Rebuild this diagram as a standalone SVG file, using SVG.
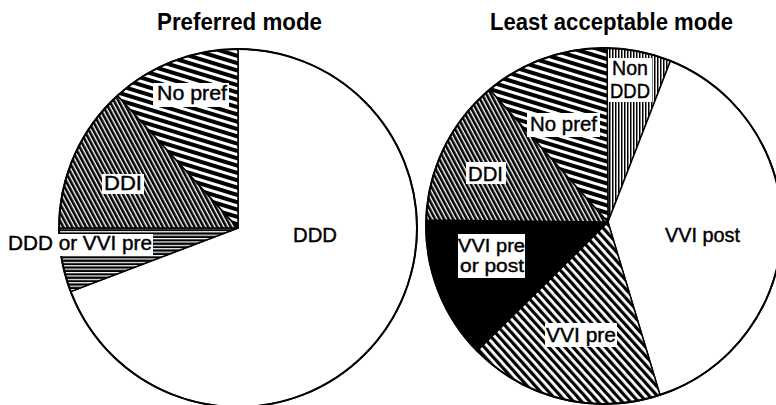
<svg xmlns="http://www.w3.org/2000/svg" width="776" height="405" viewBox="0 0 776 405">
  <style>
    .slice { stroke: #000; stroke-width: 1.5; stroke-linejoin: round; }
    .rim { fill: none; stroke: #000; stroke-width: 2; }
    .title { font-family: "Liberation Sans", Arial, sans-serif; font-weight: bold; font-size: 23px; fill: #000; text-anchor: middle; }
    .lbl { font-family: "Liberation Sans", Arial, sans-serif; font-size: 20px; fill: #000; stroke: #000; stroke-width: 0.4; }
    .lbl2 { font-size: 18px; }
    .box { fill: #fff; }
  </style>
  <defs>
    <!-- wide shallow stripes: "No pref" -->
    <pattern id="pWide" patternUnits="userSpaceOnUse" width="20" height="7" patternTransform="rotate(17)">
      <rect width="20" height="7" fill="#000"/>
      <rect y="0" width="20" height="3" fill="#fff"/>
    </pattern>
    <!-- dense steep diagonals: "DDI" -->
    <pattern id="pDense" patternUnits="userSpaceOnUse" width="20" height="4" patternTransform="rotate(62)">
      <rect width="20" height="4" fill="#000"/>
      <rect y="0" width="20" height="1.4" fill="#fff"/>
    </pattern>
    <!-- horizontal lines: "DDD or VVI pre" -->
    <pattern id="pHoriz" patternUnits="userSpaceOnUse" width="20" height="3.4">
      <rect width="20" height="3.4" fill="#000"/>
      <rect y="0" width="20" height="1.2" fill="#fff"/>
    </pattern>
    <!-- medium diagonals: "VVI pre" -->
    <pattern id="pDiag" patternUnits="userSpaceOnUse" width="20" height="6" patternTransform="rotate(48)">
      <rect width="20" height="6" fill="#000"/>
      <rect y="0" width="20" height="2.8" fill="#fff"/>
    </pattern>
    <!-- vertical lines: "Non DDD" -->
    <pattern id="pVert" patternUnits="userSpaceOnUse" width="3" height="20">
      <rect width="3" height="20" fill="#fff"/>
      <rect x="0" width="1.5" height="20" fill="#000"/>
    </pattern>
  </defs>

  <!-- Left chart: preferred mode -->
  <g id="preferred-chart">
    <text class="title" x="239.5" y="30" textLength="165" lengthAdjust="spacingAndGlyphs">Preferred mode</text>
    <g id="pref-ddd">
      <path class="slice" fill="#fff" d="M238,228 L238,49 A179,179 0 1 1 70.7,291.6 Z"/>
    </g>
    <g id="pref-ddd-or-vvi">
      <path class="slice" fill="url(#pHoriz)" d="M238,228 L70.7,291.6 A179,179 0 0 1 59,228 Z"/>
    </g>
    <g id="pref-ddi">
      <path class="slice" fill="url(#pDense)" d="M238,228 L59,228 A179,179 0 0 1 117.5,95.6 Z"/>
    </g>
    <g id="pref-nopref">
      <path class="slice" fill="url(#pWide)" d="M238,228 L117.5,95.6 A179,179 0 0 1 238,49 Z"/>
    </g>
    <circle class="rim" cx="238" cy="228" r="179"/>
    <g id="pref-labels">
      <rect class="box" x="153" y="83" width="76" height="24"/>
      <text class="lbl" x="157" y="100" textLength="70" lengthAdjust="spacingAndGlyphs">No pref</text>
      <rect class="box" x="102" y="174" width="42" height="20"/>
      <text class="lbl" x="104" y="190" textLength="38" lengthAdjust="spacingAndGlyphs">DDI</text>
      <rect class="box" x="5" y="234" width="148" height="22"/>
      <text class="lbl" x="8" y="250" textLength="144" lengthAdjust="spacingAndGlyphs">DDD or VVI pre</text>
      <text class="lbl" x="293" y="242" textLength="44" lengthAdjust="spacingAndGlyphs">DDD</text>
    </g>
  </g>

  <!-- Right chart: least acceptable mode -->
  <g id="least-chart">
    <text class="title" x="611.5" y="30" textLength="243" lengthAdjust="spacingAndGlyphs">Least acceptable mode</text>
    <g id="least-nonddd">
      <path class="slice" fill="url(#pVert)" d="M608,222 L607,48 A178,178 0 0 1 670.4,60.9 Z"/>
    </g>
    <g id="least-vvipost">
      <path class="slice" fill="#fff" d="M608,222 L670.4,60.9 A178,178 0 0 1 660,395 Z"/>
    </g>
    <g id="least-vvipre">
      <path class="slice" fill="url(#pDiag)" d="M608,222 L660,395 A178,178 0 0 1 477.1,350.8 Z"/>
    </g>
    <g id="least-vvi-either">
      <path class="slice" fill="#000" d="M608,222 L477.1,350.8 A178,178 0 0 1 426.1,220 Z"/>
    </g>
    <g id="least-ddi">
      <path class="slice" fill="url(#pDense)" d="M608,222 L426.1,220 A178,178 0 0 1 489.7,89.6 Z"/>
    </g>
    <g id="least-nopref">
      <path class="slice" fill="url(#pWide)" d="M608,222 L489.7,89.6 A178,178 0 0 1 607,48 Z"/>
    </g>
    <circle class="rim" cx="604" cy="226" r="178"/>
    <g id="least-labels">
      <rect class="box" x="608" y="58" width="44" height="44"/>
      <text class="lbl" x="612" y="75" textLength="36" lengthAdjust="spacingAndGlyphs">Non</text>
      <text class="lbl" x="610" y="98" textLength="40" lengthAdjust="spacingAndGlyphs">DDD</text>
      <rect class="box" x="527" y="113" width="73" height="24"/>
      <text class="lbl" x="530" y="131" textLength="67" lengthAdjust="spacingAndGlyphs">No pref</text>
      <rect class="box" x="466" y="162" width="40" height="22"/>
      <text class="lbl" x="468" y="181" textLength="35" lengthAdjust="spacingAndGlyphs">DDI</text>
      <rect class="box" x="458" y="234" width="67" height="44"/>
      <text class="lbl lbl2" x="458" y="252" textLength="67" lengthAdjust="spacingAndGlyphs">VVI pre</text>
      <text class="lbl lbl2" x="460" y="272" textLength="64" lengthAdjust="spacingAndGlyphs">or post</text>
      <rect class="box" x="545" y="323" width="72" height="24"/>
      <text class="lbl" x="546" y="342" textLength="70" lengthAdjust="spacingAndGlyphs">VVI pre</text>
      <text class="lbl" x="665" y="242" textLength="75" lengthAdjust="spacingAndGlyphs">VVI post</text>
    </g>
  </g>
</svg>
